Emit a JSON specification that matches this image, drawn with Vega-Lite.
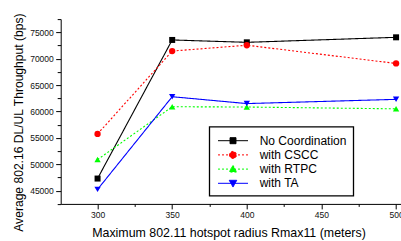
{
  "$schema": "https://vega.github.io/schema/vega-lite/v6.json",
  "width": 340.3,
  "height": 184.8,
  "autosize": {"type": "none"},
  "padding": {"left": 60.7, "top": 19.1, "right": 0, "bottom": 37.1},
  "background": "white",
  "config": {
    "view": {"stroke": null},
    "font": "Liberation Sans",
    "axis": {
      "domainColor": "#000",
      "tickColor": "#000",
      "labelColor": "#111",
      "titleColor": "#000",
      "labelFont": "Liberation Sans",
      "titleFont": "Liberation Sans",
      "labelFontSize": 8.5,
      "titleFontWeight": "normal",
      "grid": false,
      "labelFlush": false,
      "labelBound": false,
      "labelOverlap": false
    }
  },
  "data": {
    "values": [
      {"series": "No Coordination", "r": 300, "tp": 47300},
      {"series": "No Coordination", "r": 350, "tp": 73550},
      {"series": "No Coordination", "r": 400, "tp": 73100},
      {"series": "No Coordination", "r": 500, "tp": 74050},
      {"series": "with CSCC", "r": 300, "tp": 55750},
      {"series": "with CSCC", "r": 350, "tp": 71450},
      {"series": "with CSCC", "r": 400, "tp": 72550},
      {"series": "with CSCC", "r": 500, "tp": 69100},
      {"series": "with RTPC", "r": 300, "tp": 50900},
      {"series": "with RTPC", "r": 350, "tp": 60900},
      {"series": "with RTPC", "r": 400, "tp": 60850},
      {"series": "with RTPC", "r": 500, "tp": 60500},
      {"series": "with TA", "r": 300, "tp": 45250},
      {"series": "with TA", "r": 350, "tp": 62800},
      {"series": "with TA", "r": 400, "tp": 61500},
      {"series": "with TA", "r": 500, "tp": 62300}
    ]
  },
  "encoding": {
    "x": {
      "field": "r",
      "type": "quantitative",
      "scale": {"domain": [275.3, 503.3], "nice": false, "zero": false},
      "axis": {
        "title": "Maximum 802.11 hotspot radius Rmax11 (meters)",
        "titleFontSize": 12.4,
        "titleX": 167.8,
        "titleY": 32.8,
        "titleAlign": "center",
        "titleBaseline": "alphabetic",
        "values": [300, 325, 350, 375, 400, 425, 450, 475, 500],
        "format": "d",
        "labelExpr": "datum.value % 50 === 0 ? datum.label : ''",
        "tickSize": {"condition": {"test": "datum.value % 50 !== 0", "value": 2.5}, "value": 5},
        "labelPadding": 2
      }
    },
    "y": {
      "field": "tp",
      "type": "quantitative",
      "scale": {"domain": [42500, 77500], "nice": false, "zero": false},
      "axis": {
        "title": "Average 802.16 DL/UL Throughput (bps)",
        "titleFontSize": 12.1,
        "titleAngle": -90,
        "titleX": -38.7,
        "titleY": 103,
        "titleAlign": "center",
        "titleBaseline": "alphabetic",
        "values": [42500, 45000, 47500, 50000, 52500, 55000, 57500, 60000, 62500, 65000, 67500, 70000, 72500, 75000, 77500],
        "format": "d",
        "labelExpr": "datum.value % 5000 === 0 ? datum.label : ''",
        "tickSize": {"condition": {"test": "datum.value % 5000 !== 0", "value": 3.5}, "value": 5},
        "labelPadding": 2.4
      }
    },
    "color": {
      "field": "series",
      "type": "nominal",
      "scale": {
        "domain": ["No Coordination", "with CSCC", "with RTPC", "with TA"],
        "range": ["#000000", "#ff0000", "#00ff00", "#0000ff"]
      },
      "legend": {
        "title": null,
        "orient": "none",
        "legendX": 148.6,
        "legendY": 107.6,
        "strokeColor": "#000",
        "fillColor": "#fff",
        "padding": 6,
        "symbolSize": 225,
        "symbolOffset": 9.7,
        "labelOffset": 18.7,
        "labelFontSize": 12,
        "labelFont": "Liberation Sans",
        "labelColor": "#000",
        "rowPadding": 0.2,
        "encode": {
          "legend": {"update": {"strokeWidth": {"value": 1.3}}},
          "symbols": {
            "update": {
              "shape": {"signal": "datum.value === 'No Coordination' ? 'M-2,0H2M-0.4,-0.4H0.4V0.4H-0.4Z' : datum.value === 'with CSCC' ? 'M-2,0H2M-0.47,0A0.47,0.47 0 1,0 0.47,0A0.47,0.47 0 1,0 -0.47,0Z' : datum.value === 'with RTPC' ? 'M-2,0H2M0,-0.5L0.5,0.4L-0.5,0.4Z' : 'M-2,0H2M0,0.5L0.5,-0.4L-0.5,-0.4Z'"},
              "strokeDash": {"signal": "datum.value === 'with CSCC' || datum.value === 'with RTPC' ? [2, 2] : [1, 0]"},
              "fill": {"scale": "color", "field": "value"},
              "stroke": {"scale": "color", "field": "value"},
              "strokeWidth": {"value": 1},
              "opacity": {"value": 1}
            }
          }
        }
      }
    }
  },
  "layer": [
    {
      "mark": {"type": "line", "strokeWidth": 1.1},
      "encoding": {
        "strokeDash": {
          "field": "series",
          "type": "nominal",
          "scale": {
            "domain": ["No Coordination", "with CSCC", "with RTPC", "with TA"],
            "range": [[1, 0], [2, 2], [2, 2], [1, 0]]
          },
          "legend": null
        }
      }
    },
    {
      "transform": [{"filter": {"field": "series", "equal": "No Coordination"}}],
      "mark": {"type": "point", "filled": true, "opacity": 1, "size": 36, "shape": "square"}
    },
    {
      "transform": [{"filter": {"field": "series", "equal": "with CSCC"}}],
      "mark": {"type": "point", "filled": true, "opacity": 1, "size": 40, "shape": "circle"}
    },
    {
      "transform": [{"filter": {"field": "series", "equal": "with RTPC"}}],
      "mark": {"type": "point", "filled": true, "opacity": 1, "size": 40, "shape": "triangle-up"}
    },
    {
      "transform": [{"filter": {"field": "series", "equal": "with TA"}}],
      "mark": {"type": "point", "filled": true, "opacity": 1, "size": 40, "shape": "triangle-down"}
    }
  ]
}
